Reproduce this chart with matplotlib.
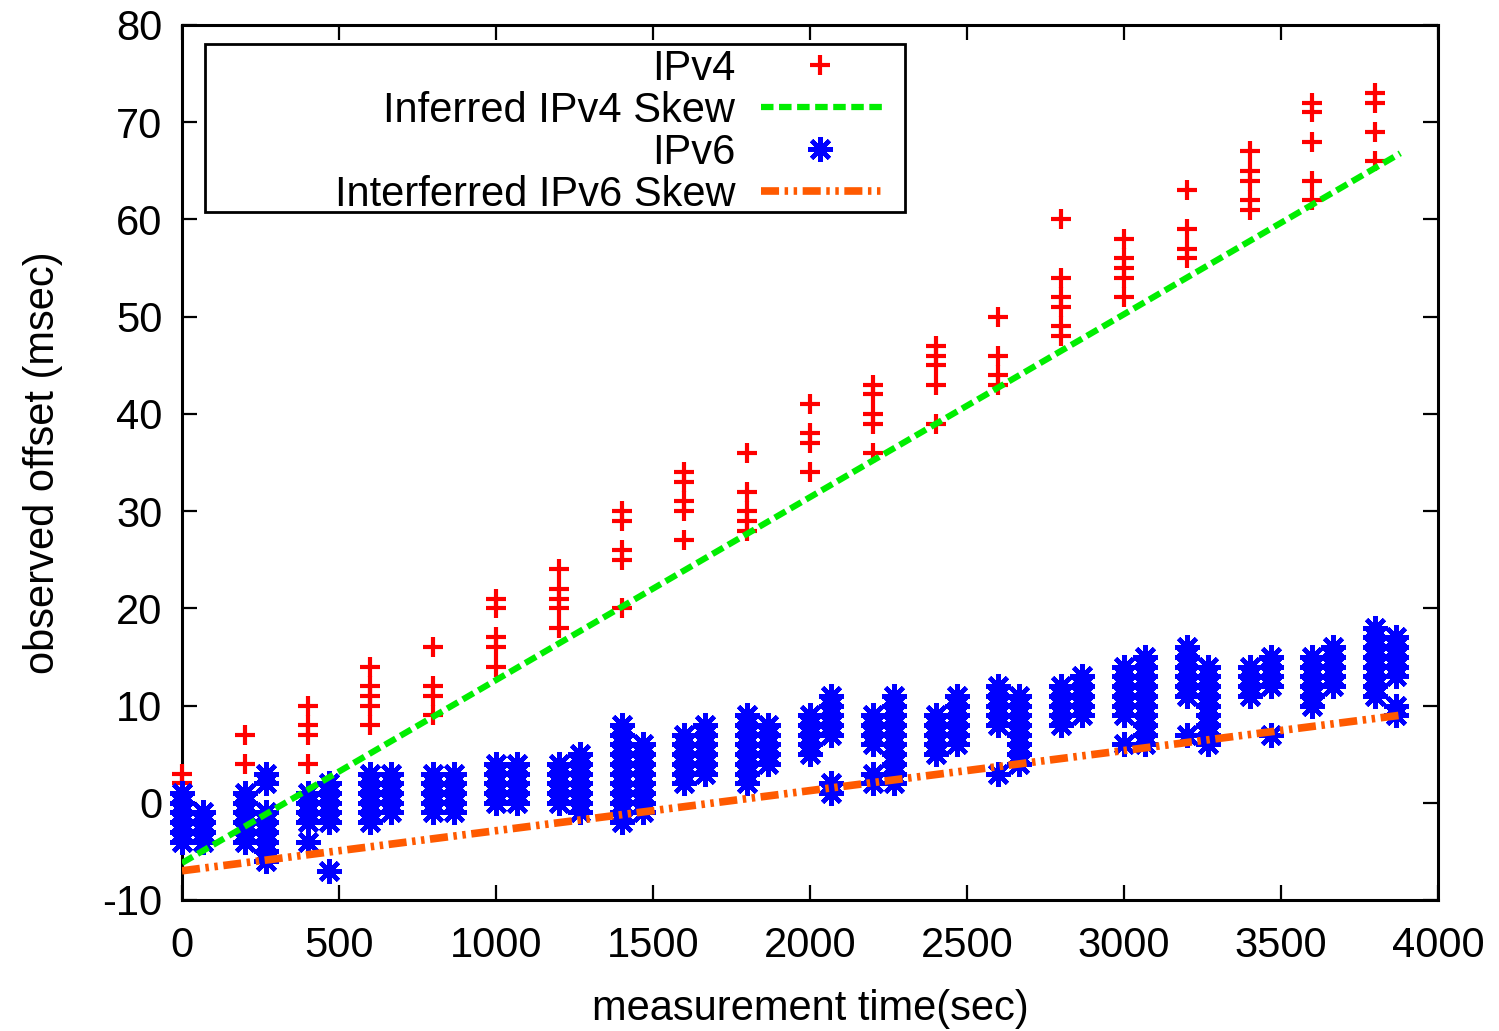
import matplotlib
matplotlib.use("Agg")
import matplotlib.pyplot as plt
from matplotlib.patches import Rectangle

# IPv4 samples: one probe every 200 s, several offsets each
ipv4_times = [0, 200, 400, 600, 800, 1000, 1200, 1400, 1600, 1800,
              2000, 2200, 2400, 2600, 2800, 3000, 3200, 3400, 3600, 3800]
ipv4_offsets = [[3, 2], [7, 4], [10, 8, 7, 4], [14, 12, 11, 10, 8],
                [16, 12, 11, 9], [21, 20, 17, 16, 14], [24, 22, 21, 20, 18],
                [30, 29, 26, 25, 20], [34, 33, 31, 30, 27], [36, 32, 30, 29, 28],
                [41, 38, 37, 34], [43, 42, 40, 39, 36], [47, 46, 45, 43, 39],
                [50, 46, 44, 43], [60, 54, 52, 51, 49, 48], [58, 56, 55, 54, 52],
                [63, 59, 57, 56], [67, 65, 64, 62, 61], [72, 71, 68, 64, 62],
                [73, 72, 69, 66]]

# IPv6 samples: two columns per 200 s interval
ipv6_times = [0, 67, 200, 267, 400, 467, 600, 667, 800, 867,
              1000, 1067, 1200, 1267, 1400, 1467, 1600, 1667, 1800, 1867,
              2000, 2067, 2200, 2267, 2400, 2467, 2600, 2667, 2800, 2867,
              3000, 3067, 3200, 3267, 3400, 3467, 3600, 3667, 3800, 3867]
ipv6_offsets = [[1, 0, -1, -2, -3, -4], [-1, -2, -3, -4],
                [1, 0, -1, -2, -3, -4], [3, 2, -1, -2, -3, -4, -5, -6],
                [1, 0, -1, -2, -4], [2, 1, 0, -1, -2, -7],
                [3, 2, 1, 0, -1, -2], [3, 2, 1, 0, -1],
                [3, 2, 1, 0, -1], [3, 2, 1, 0, -1],
                [4, 3, 2, 1, 0], [4, 3, 2, 1, 0],
                [4, 3, 2, 1, 0], [5, 4, 3, 2, 1, 0, -1],
                [8, 7, 6, 5, 4, 3, 2, 1, 0, -1, -2], [6, 5, 4, 3, 2, 1, 0, -1],
                [7, 6, 5, 4, 3, 2], [8, 7, 6, 5, 4, 3],
                [9, 8, 7, 6, 5, 4, 3, 2], [8, 7, 6, 5, 4],
                [9, 8, 7, 6, 5], [11, 10, 9, 8, 7, 2, 1],
                [9, 8, 7, 6, 3, 2], [11, 10, 9, 8, 7, 6, 5, 4, 3, 2],
                [9, 8, 7, 6, 5], [11, 10, 9, 8, 7, 6],
                [12, 11, 10, 9, 8, 3], [11, 10, 9, 8, 7, 6, 5, 4],
                [12, 11, 10, 9, 8], [13, 12, 11, 10, 9],
                [14, 13, 12, 11, 10, 9, 6], [15, 14, 13, 12, 11, 10, 9, 8, 7, 6],
                [16, 15, 14, 13, 12, 11, 7], [14, 13, 12, 11, 10, 9, 8, 7, 6],
                [14, 13, 12, 11], [15, 14, 13, 12, 7],
                [15, 14, 13, 12, 11, 10], [16, 15, 14, 13, 12],
                [18, 17, 16, 15, 14, 13, 12, 11], [17, 16, 15, 14, 13, 10, 9]]

# fitted skew lines (end points)
fit_times = [0, 3880]
ipv4_fit = [-6.2, 66.8]
ipv6_fit = [-7.0, 9.0]

labels = ['IPv4', 'Inferred IPv4 Skew', 'IPv6', 'Interferred IPv6 Skew']

plt.rcParams['font.family'] = ['Liberation Sans', 'DejaVu Sans']
plt.rcParams['font.size'] = 30
plt.rcParams['lines.scale_dashes'] = False
plt.rcParams['axes.unicode_minus'] = False

fig = plt.figure(figsize=(14.99, 10.31), dpi=100)
ax = fig.add_axes([0.1214, 0.1271, 0.8379, 0.8487])

x4 = [t for t, vals in zip(ipv4_times, ipv4_offsets) for v in vals]
y4 = [v for vals in ipv4_offsets for v in vals]
x6 = [t for t, vals in zip(ipv6_times, ipv6_offsets) for v in vals]
y6 = [v for vals in ipv6_offsets for v in vals]

ipv4_style = dict(linestyle='none', marker='+', ms=15, mew=3, color='#ff0000')
ipv6_style = dict(linestyle='none', marker=(8, 2, 0), ms=18, mew=3.2, color='#0000ff')
green_style = dict(color='#00ee00', lw=4.5, dashes=(9, 4))
orange_style = dict(color='#ff5a00', lw=5.5, dashes=(13, 4, 2.5, 4, 2.5, 4))

ax.plot(x4, y4, clip_on=False, zorder=3, **ipv4_style)
ax.plot(x6, y6, clip_on=False, zorder=4, **ipv6_style)
ax.plot(fit_times, ipv4_fit, zorder=5, **green_style)
ax.plot(fit_times, ipv6_fit, zorder=6, **orange_style)

ax.set_xlim(0, 4000)
ax.set_ylim(-10, 80)
ax.set_xticks(range(0, 4001, 500))
ax.set_yticks(range(-10, 81, 10))
ax.tick_params(direction='in', length=11, width=1.6, top=True, right=True,
               labelsize=30)
ax.tick_params(axis='x', pad=19)
ax.tick_params(axis='y', pad=14)
for s in ax.spines.values():
    s.set_linewidth(2.2)

ax.set_xlabel('measurement time(sec)', fontsize=30)
ax.set_ylabel('observed offset (msec)', fontsize=30)
ax.xaxis.set_label_coords(0.5, -0.102)
ax.yaxis.set_label_coords(-0.095, 0.5)

# gnuplot style key: right-aligned labels, samples on the right
ax.add_patch(Rectangle((0.0183, 0.7863), 0.5573, 0.192, transform=ax.transAxes,
                       fill=True, facecolor='white', edgecolor='black', lw=2, zorder=7))
rows = [0.9543, 0.9063, 0.8583, 0.8103]
styles = [ipv4_style, green_style, ipv6_style, orange_style]
for lab, yy, st in zip(labels, rows, styles):
    ax.text(0.4403, yy, lab, transform=ax.transAxes, ha='right', va='center_baseline',
            fontsize=30, zorder=8)
    if st.get('marker'):
        ax.plot([0.508], [yy], transform=ax.transAxes, clip_on=False, zorder=8, **st)
    else:
        ax.plot([0.461, 0.5573], [yy, yy], transform=ax.transAxes, clip_on=False,
                zorder=8, **st)

fig.savefig('out.png', dpi=100)
